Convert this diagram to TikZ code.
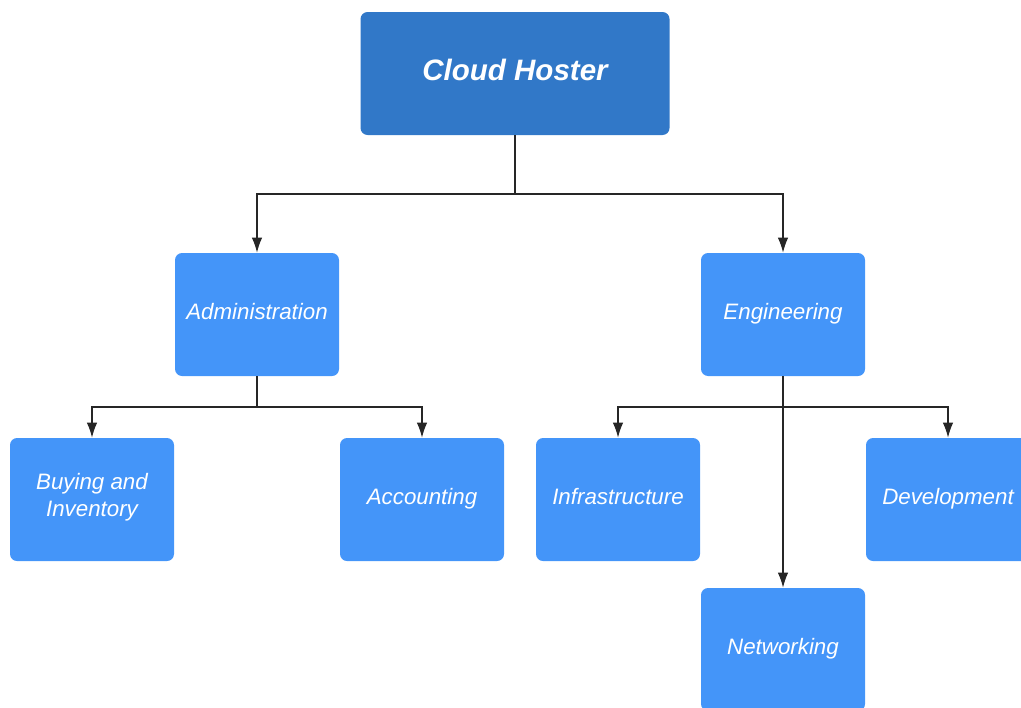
\documentclass[tikz,border=0pt]{standalone}
\usepackage{fontspec}
\setmainfont{Liberation Sans}
\usetikzlibrary{arrows.meta}
\definecolor{topblue}{HTML}{3178C8}
\definecolor{boxblue}{HTML}{4495F9}
\tikzset{
    unitbase/.style={fill=boxblue,rounded corners=4pt,minimum width=3.28cm,minimum height=2.46cm,
        text=white,align=center,font=\fontsize{12.7}{15.4}\selectfont\itshape},
    unit/.style={unitbase,text height=9.5pt,text depth=3.4pt},
    head/.style={unitbase,fill=topblue,minimum width=6.18cm,text height=12.6pt,text depth=4.6pt,
        font=\fontsize{16.8}{20}\selectfont\bfseries\itshape},
    link/.style={draw=black!85,line width=0.7pt}
}
\begin{document}
\begin{tikzpicture}[>={Latex[length=3mm,width=2.1mm]}]
\useasboundingbox (0,0) rectangle (20.42,-14.14);
\node[head] (cloud) at (10.30,-1.47){Cloud Hoster};
\node[unit] (admin) at (5.14,-6.29){Administration};
\node[unit] (eng) at (15.66,-6.29){Engineering};
\node[unitbase,text depth=5.6pt] (buy) at (1.84,-9.99){Buying and\\Inventory};
\node[unit] (acc) at (8.44,-9.99){Accounting};
\node[unit] (infra) at (12.36,-9.99){Infrastructure};
\node[unit] (dev) at (18.96,-9.99){Development};
\node[unit] (net) at (15.66,-12.99){Networking};
\coordinate (top) at (10.30,-3.88);
\coordinate (aj) at (5.14,-8.14);
\coordinate (ej) at (15.66,-8.14);
\draw[link] (cloud) -- (top);
\draw[link,->] (top) -| (admin);
\draw[link,->] (top) -| (eng);
\draw[link] (admin) -- (aj);
\draw[link,->] (aj) -| (buy);
\draw[link,->] (aj) -| (acc);
\draw[link,->] (ej) -| (infra);
\draw[link,->] (ej) -| (dev);
\draw[link,->] (eng) -- (net);
\end{tikzpicture}
\end{document}
